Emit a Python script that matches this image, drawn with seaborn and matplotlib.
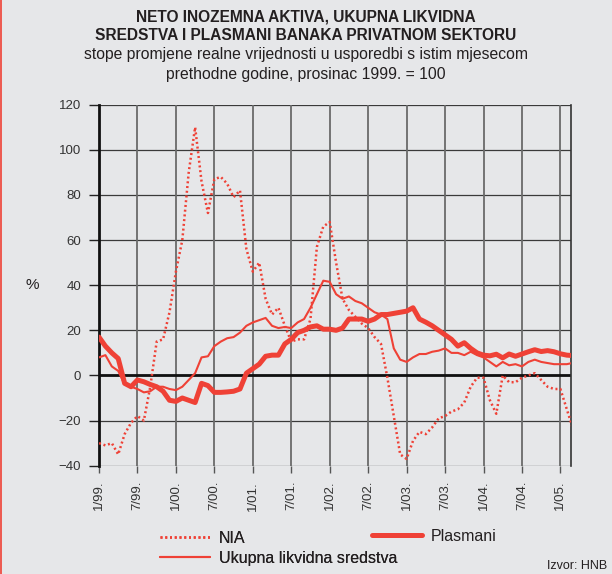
import matplotlib
matplotlib.use("Agg")
import matplotlib.pyplot as plt
import seaborn as sns
import pandas as pd
from matplotlib.lines import Line2D

# monthly data, 1/99. .. 3/05.
nia = [-30, -31, -30, -35, -26, -21, -18, -20, -5, 15, 16, 28,
       46, 60, 90, 110, 86, 72, 87, 88, 85, 79, 82, 56,
       46, 50, 34, 27, 30, 22, 15, 16, 16, 25, 57, 66,
       68, 50, 34, 29, 26, 23, 21, 17, 14, -1, -18, -35,
       -37, -29, -25, -26, -23, -19, -18, -16, -15, -12, -5, -1,
       -1, -11, -17, 0, -3, -3, -1, 0, 1, -2, -5, -6,
       -6, -15, -24]
uls = [8, 9, 4, 2, -4, -5, -6, -7.5, -7, -5, -5, -6,
       -6.5, -5, -2, 1, 8, 8.5, 13, 15, 16.5, 17, 19, 22,
       23.5, 24.5, 25.5, 22, 21, 21.5, 21, 23.5, 25, 30, 36, 42,
       41.5, 36, 34, 35, 33, 32, 30, 28, 27, 25, 12, 7,
       6, 8, 9.5, 9.5, 10.5, 11, 12, 10, 10, 9, 10.5, 9,
       8, 6, 4, 6, 4.5, 5, 4, 6, 7, 6, 5.5, 5,
       5, 5, 5.6]
plasmani = [17, 13, 10, 7.5, -3.5, -5, -2, -2.8, -4, -5, -7, -11,
            -11.5, -10, -11, -12, -3.5, -4.5, -7.5, -7.5, -7.3, -7, -6, 1,
            3, 5, 8.5, 9, 9, 14, 16, 19, 20, 21.5, 22, 20.5,
            20.5, 20, 21, 25, 25, 25, 24, 25, 27, 27, 27.5, 28,
            28.5, 30, 25, 23.6, 22, 20, 18, 16, 13, 14.5, 12, 10,
            9, 8.7, 9.4, 7.8, 9.5, 8.5, 9.5, 10.5, 11.4, 10.6, 11, 10.5,
            9.6, 9, 8.8]
tick_labels = ["1/99.", "7/99.", "1/00.", "7/00.", "1/01.", "7/01.", "1/02.",
               "7/02.", "1/03.", "7/03.", "1/04.", "7/04.", "1/05."]

df = pd.DataFrame({"mjesec": range(len(nia)), "NIA": nia,
                   "Ukupna likvidna sredstva": uls, "Plasmani": plasmani})

bg = "#e6e7e9"
red = "#ef4136"
sns.set_style("white")
plt.rcParams["font.family"] = ["Liberation Sans", "DejaVu Sans"]
plt.rcParams["text.color"] = "#231f20"

fig = plt.figure(figsize=(6.12, 5.74), dpi=100, facecolor=bg)
ax = fig.add_axes([99 / 612, 1 - 465.7 / 574, 472.3 / 612, 361 / 574])
ax.set_facecolor(bg)

# grid
for v in range(-40, 121, 20):
    ax.axhline(v, color="#3a3a3a", lw=0.9, zorder=1)
for m in range(6, 73, 6):
    ax.axvline(m, color="#6a6a6a", lw=1.3, zorder=1)
ax.axhline(0, color="#111111", lw=2.0, zorder=1.5)

sns.lineplot(data=df, x="mjesec", y="NIA", ax=ax, color=red, lw=1.8,
             linestyle=(0, (0.8, 1.1)), label="NIA", zorder=3)
sns.lineplot(data=df, x="mjesec", y="Ukupna likvidna sredstva", ax=ax,
             color=red, lw=1.5, label="Ukupna likvidna sredstva", zorder=3)
sns.lineplot(data=df, x="mjesec", y="Plasmani", ax=ax, color=red, lw=3.6,
             label="Plasmani", zorder=4)

ax.set_xlim(0, 73.7)
ax.set_ylim(-40, 120)
ax.set_xticks(range(0, 73, 6))
ax.set_xticklabels(tick_labels, rotation=90, fontsize=9.5, color="#333333")
ax.set_yticks(range(-40, 121, 20))
ax.set_yticklabels([str(v).replace("-", "\u2212") for v in range(-40, 121, 20)],
                   fontsize=9.5, color="#333333")
ax.tick_params(axis="y", length=7, width=1, color="#222222", pad=6, left=True)
ax.tick_params(axis="x", length=5, width=1, color="#555555", pad=6, bottom=True)
ax.set_xlabel("")
ax.set_ylabel("")
for s in ["top", "bottom"]:
    ax.spines[s].set_visible(False)
ax.spines["left"].set_color("#111111")
ax.spines["left"].set_linewidth(2)
ax.spines["right"].set_color("#333333")
ax.spines["right"].set_linewidth(1.2)

# legends
h = {l.get_label(): l for l in ax.get_lines() if not l.get_label().startswith("_")}
ax.get_legend().remove()
leg1 = fig.legend([h["NIA"], h["Ukupna likvidna sredstva"]],
                  ["NIA", "Ukupna likvidna sredstva"],
                  loc="upper left", bbox_to_anchor=(160 / 612, 1 - 531 / 574),
                  frameon=False, fontsize=11.5, handlelength=3.1,
                  handletextpad=0.6, labelspacing=0.3, borderpad=0,
                  borderaxespad=0)
fig.legend([h["Plasmani"]], ["Plasmani"], loc="upper left",
           bbox_to_anchor=(372 / 612, 1 - 529 / 574), frameon=False,
           fontsize=11.5, handlelength=3.1, handletextpad=0.6, borderpad=0,
           borderaxespad=0)
fig.add_artist(leg1)

fig.text(0.5, 1 - 17.5 / 574, "NETO INOZEMNA AKTIVA, UKUPNA LIKVIDNA",
         ha="center", va="center", fontsize=11.2, weight="bold")
fig.text(0.5, 1 - 36 / 574, "SREDSTVA I PLASMANI BANAKA PRIVATNOM SEKTORU",
         ha="center", va="center", fontsize=11.2, weight="bold")
fig.text(0.5, 1 - 55 / 574,
         "stope promjene realne vrijednosti u usporedbi s istim mjesecom",
         ha="center", va="center", fontsize=11.3)
fig.text(0.5, 1 - 74 / 574, "prethodne godine, prosinac 1999. = 100",
         ha="center", va="center", fontsize=11.3)
fig.text(32 / 612, 1 - 285 / 574, "%", ha="center", va="center", fontsize=11)
fig.text(607 / 612, 1 - 566 / 574, "Izvor: HNB", ha="right", va="center",
         fontsize=9)
fig.add_artist(Line2D([0.001, 0.001], [0, 1], transform=fig.transFigure,
                      color=red, lw=1.2))

fig.savefig("out.png", dpi=100, facecolor=bg)
